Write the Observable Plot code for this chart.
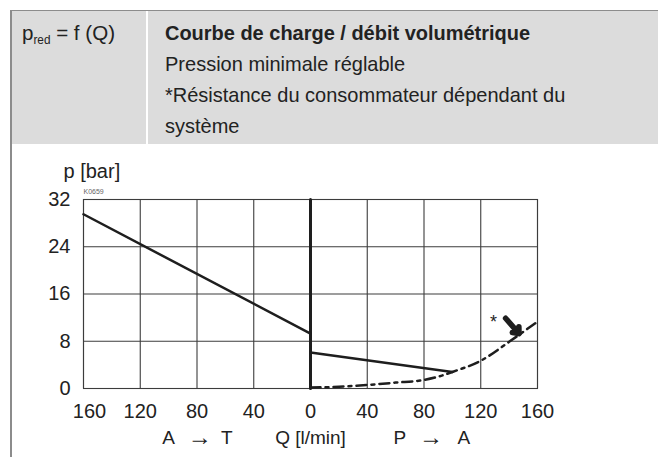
<!DOCTYPE html>
<html>
<head>
<meta charset="utf-8">
<script src="https://cdn.jsdelivr.net/npm/d3@7"></script>
<script src="https://cdn.jsdelivr.net/npm/@observablehq/plot@0.6"></script>
<style>
  html, body { margin: 0; padding: 0; background: #fff; }
  #page { position: relative; width: 658px; height: 457px; overflow: hidden; }
  #header { position: absolute; left: 11px; top: 10px; width: 647px; height: 134px;
            background: #dcdcdc; border-top: 1px solid #8c8c8c; box-sizing: border-box; }
  #divider { position: absolute; left: 135px; top: 0; width: 2px; height: 100%; background: #fff; }
  .hd { position: absolute; font-family: "Liberation Sans", Arial, sans-serif;
        font-size: 21px; line-height: 31px; color: #222; white-space: nowrap; }
  .hd sub { font-size: 12px; vertical-align: -4px; line-height: 0; }
  .hd div { display: block; height: 31px; }
  .hd span { display: inline-block; transform-origin: 0 50%; }
  #leftcell { left: 11px; top: 6px; }
  #rightcell { left: 154px; top: 6px; }
  #vborder { position: absolute; left: 10px; top: 10px; width: 2px; height: 447px; background: #8c8c8c; }
  #chart { position: absolute; left: 0; top: 145px; }
</style>
</head>
<body>
<div id="page">
  <div id="header">
    <div id="divider"></div>
    <div class="hd" id="leftcell"><div><span class="g1" data-w="93">p<sub>red</sub> = f (Q)</span></div></div>
    <div class="hd" id="rightcell">
      <div><span class="g2" data-w="365" style="font-weight:bold">Courbe de charge / débit volumétrique</span></div>
      <div><span class="g3" data-w="263">Pression minimale réglable</span></div>
      <div><span class="g3" data-w="385">*Résistance du consommateur dépendant du</span></div>
      <div><span class="g3" data-w="67">système</span></div>
    </div>
  </div>
  <div id="chart"></div>
  <div id="vborder"></div>
</div>
<script>
// Tick values (Q in l/min: negative = A → T side, positive = P → A side)
const xTicks = [-160, -120, -80, -40, 0, 40, 80, 120, 160];
const yTicks = [0, 8, 16, 24, 32];

// A → T characteristic (solid)
const atQ = [-160, 0];
const atP = [29.5, 9.3];

// P → A reduced pressure characteristic (solid)
const paQ = [0, 100];
const paP = [6.1, 2.8];

// Consumer resistance (dash-dot)
const resQ = [0, 20, 40, 60, 80, 90, 100, 120, 140, 150, 160];
const resP = [0.15, 0.3, 0.6, 1.0, 1.45, 2.0, 2.8, 4.7, 7.9, 9.6, 11.3];

// Zero-flow axis (thick vertical)
const zeroQ = [0, 0];
const zeroP = [0, 32];

// Annotation: asterisk + arrow
const starQ = [129];
const starP = [11.2];
const arrowQ1 = [137.5], arrowP1 = [11.9], arrowQ2 = [147], arrowP2 = [9.3];

// Bottom axis captions
const capQ = [-100, -78, -59, 0, 63, 85, 108];
const capText = ["A", "\u2192", "T", "Q [l/min]", "P", "\u2192", "A"];
const capSize = [19, 24, 19, 19, 19, 24, 19];

const zip = (xs, ys) => xs.map((x, i) => ({q: x, p: ys[i]}));
const font = "'Liberation Sans', Arial, sans-serif";
const ink = "#1e1e1e";
const fmt = d => Math.abs(d);

const chart = Plot.plot({
  width: 658,
  height: 312,
  marginLeft: 83,
  marginRight: 121,
  marginTop: 54,
  marginBottom: 69,
  x: {domain: [-160, 160]},
  y: {domain: [0, 32]},
  style: {fontFamily: font, fontSize: "20px", color: "#222", background: "transparent", overflow: "visible"},
  marks: [
    Plot.gridX(xTicks, {stroke: "#3c3c3c", strokeOpacity: 1, strokeWidth: 1.1}),
    Plot.gridY(yTicks, {stroke: "#3c3c3c", strokeOpacity: 1, strokeWidth: 1.1}),
    Plot.frame({stroke: "#3c3c3c", strokeWidth: 1.1}),
    Plot.axisX({ticks: xTicks.slice(1), tickFormat: fmt, tickSize: 0, tickPadding: 15, label: null, fontSize: 20}),
    Plot.axisX({ticks: xTicks.slice(0, 1), tickFormat: fmt, tickSize: 0, tickPadding: 15, label: null, fontSize: 20, dx: 6}),
    Plot.axisY({ticks: yTicks, tickSize: 0, tickPadding: 13, label: null, fontSize: 20}),
    Plot.line(zip(zeroQ, zeroP), {x: "q", y: "p", stroke: ink, strokeWidth: 3}),
    Plot.line(zip(atQ, atP), {x: "q", y: "p", stroke: ink, strokeWidth: 2.5}),
    Plot.line(zip(paQ, paP), {x: "q", y: "p", stroke: ink, strokeWidth: 2.5}),
    Plot.line(zip(resQ, resP), {x: "q", y: "p", stroke: ink, strokeWidth: 2.5, strokeDasharray: "10,5,3,5", curve: "monotone-x"}),
    Plot.text(zip(starQ, starP), {x: "q", y: "p", text: () => "*", fontSize: 18, fill: ink}),
    Plot.arrow([{x1: arrowQ1[0], y1: arrowP1[0], x2: arrowQ2[0], y2: arrowP2[0]}], {x1: "x1", y1: "y1", x2: "x2", y2: "y2", stroke: ink, strokeWidth: 5.5, headLength: 10, headAngle: 80, bend: false}),
    Plot.text(capText.map((t, i) => ({q: capQ[i], t, s: capSize[i]})), {x: "q", y: () => 0, text: "t", fontSize: "s", dy: 49, fill: "#222"}),
    Plot.text(["p [bar]"], {x: () => -160, y: () => 32, text: d => d, textAnchor: "start", dx: -20, dy: -28, fontSize: 20, fill: "#222"}),
    Plot.text(["K0659"], {x: () => -160, y: () => 32, text: d => d, textAnchor: "start", dy: -8, fontSize: 7, fill: "#666"})
  ]
});
document.getElementById("chart").appendChild(chart);

// Simulate the condensed header typeface by horizontal scaling, one factor per text group
["g1", "g2", "g3"].forEach(g => {
  const els = [...document.querySelectorAll(".hd span." + g)];
  const target = els.reduce((s, el) => s + (+el.dataset.w), 0);
  const actual = els.reduce((s, el) => s + el.getBoundingClientRect().width, 0);
  els.forEach(el => { el.style.transform = `scaleX(${target / actual})`; });
});
</script>
</body>
</html>
